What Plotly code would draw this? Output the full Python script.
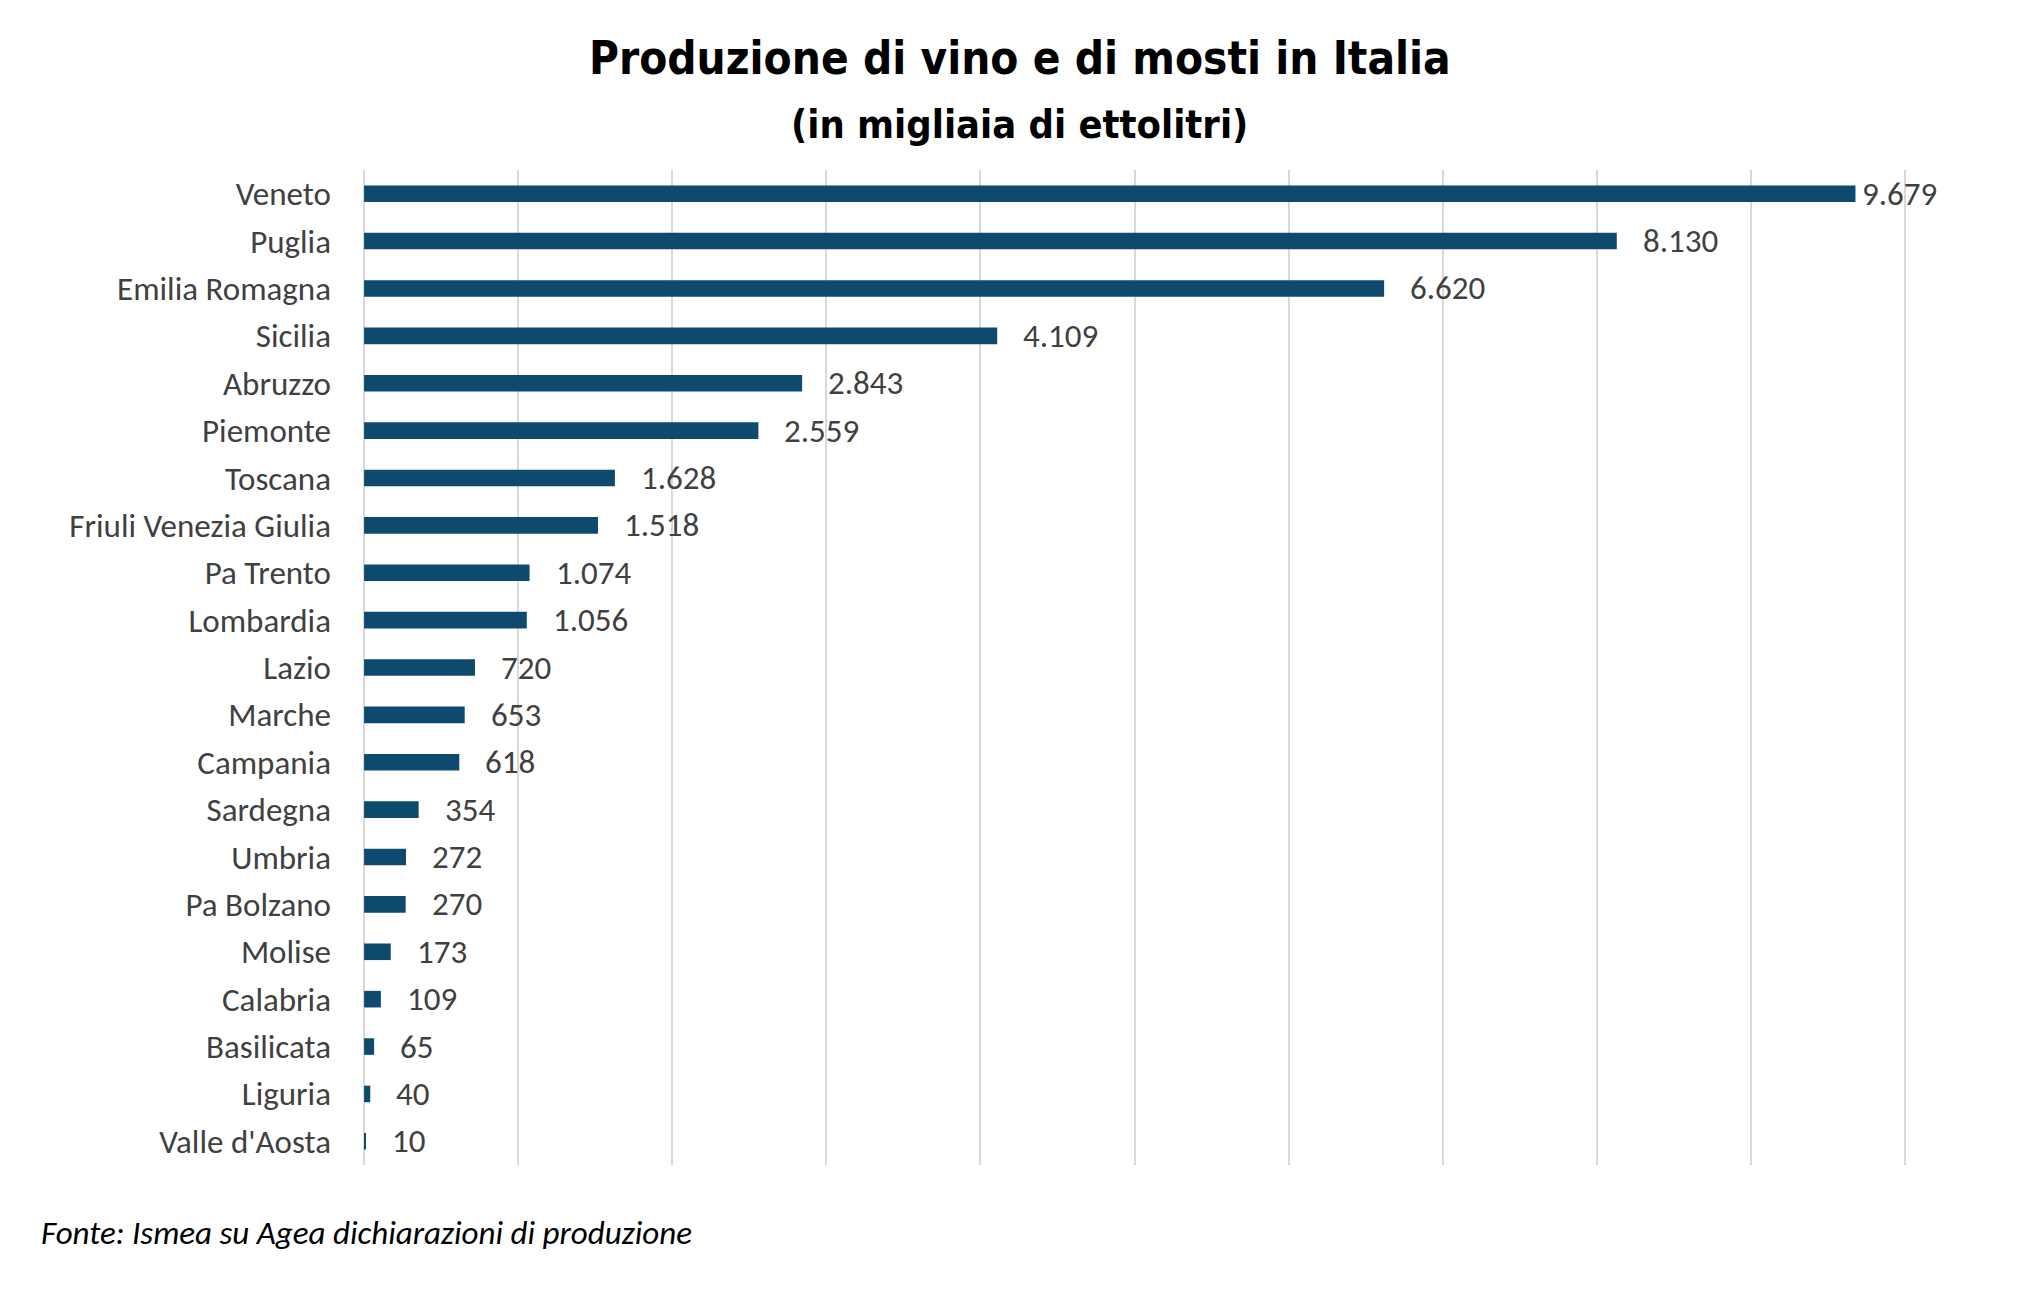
import plotly.graph_objects as go

regions = ["Veneto", "Puglia", "Emilia Romagna", "Sicilia", "Abruzzo", "Piemonte",
           "Toscana", "Friuli Venezia Giulia", "Pa Trento", "Lombardia", "Lazio",
           "Marche", "Campania", "Sardegna", "Umbria", "Pa Bolzano", "Molise",
           "Calabria", "Basilicata", "Liguria", "Valle d'Aosta"]
production = [9679, 8130, 6620, 4109, 2843, 2559, 1628, 1518, 1074, 1056, 720,
              653, 618, 354, 272, 270, 173, 109, 65, 40, 10]
labels = [f"{v:,}".replace(",", ".") for v in production]

title_line1 = "Produzione di vino e di mosti in Italia"
title_line2 = "(in migliaia di ettolitri)"
source = "Fonte: Ismea su Agea dichiarazioni di produzione"

BAR = "#0d4a6e"
TXT = "#404040"
FONT = "Carlito, Lato, Noto Sans, sans-serif"
TFONT = "Liberation Sans Narrow, DejaVu Sans Condensed, sans-serif"

# page layout (browser body has an 8px margin)
OFF = 8
W, H = 2039 - 2 * OFF, 1299 - 2 * OFF
XMIN, XMAX, PAD = 0, 10000, 20
px0, px1 = 364 - OFF, 1905 - OFF          # pixel positions of 0 and 10000
py0, py1 = 170 - OFF, 1165 - OFF          # top / bottom of plot area
ppu = (px1 - px0) / (XMAX - XMIN)
left = px0 - PAD * ppu
right = px1 + PAD * ppu
L, R, T, B = left, W - right, py0, H - py1
pw = right - left

def paper_x(fx):
    return (fx - L) / pw

fig = go.Figure()
fig.add_trace(go.Bar(
    x=production, y=regions, orientation="h",
    marker=dict(color=BAR, line=dict(width=0)),
    width=0.35, hoverinfo="x+y",
))

vmax = max(production)
for r, v, t in zip(regions, production, labels):
    fig.add_annotation(x=v, y=r, text=t, showarrow=False, xanchor="left",
                       yanchor="middle", xshift=5 if v == vmax else 24,
                       font=dict(family=FONT, size=33, color=TXT))

cx = paper_x(2039 / 2 - OFF)
fig.add_annotation(xref="paper", yref="paper", x=cx, y=1, text=f"<b>{title_line1}</b>",
                   showarrow=False, xanchor="center", yanchor="middle",
                   yshift=T - (58 - OFF), font=dict(family=TFONT, size=45.5, color="#000000"))
fig.add_annotation(xref="paper", yref="paper", x=cx, y=1, text=f"<b>{title_line2}</b>",
                   showarrow=False, xanchor="center", yanchor="middle",
                   yshift=T - (124 - OFF), font=dict(family=TFONT, size=39.5, color="#000000"))
fig.add_annotation(xref="paper", yref="paper", x=paper_x(39 - OFF), y=0, text=f"<i>{source}</i>",
                   showarrow=False, xanchor="left", yanchor="middle",
                   yshift=-((1233 - OFF) - (H - B)),
                   font=dict(family=FONT, size=33, color="#000000"))

fig.update_layout(
    width=W, height=H,
    margin=dict(l=L, r=R, t=T, b=B, pad=0),
    paper_bgcolor="white", plot_bgcolor="white",
    showlegend=False,
)
fig.update_xaxes(range=[XMIN - PAD, XMAX + PAD], tick0=0, dtick=1000, showticklabels=False,
                 showgrid=True, gridcolor="#d9d9d9", gridwidth=2,
                 zeroline=False, showline=False, fixedrange=True)
fig.update_yaxes(type="category", range=[20.5, -0.5], showgrid=False,
                 tickfont=dict(family=FONT, size=33, color=TXT),
                 ticks="", ticklabelstandoff=int(round(32 - PAD * ppu)),
                 showline=False, zeroline=False)

fig.write_html("out.html")
